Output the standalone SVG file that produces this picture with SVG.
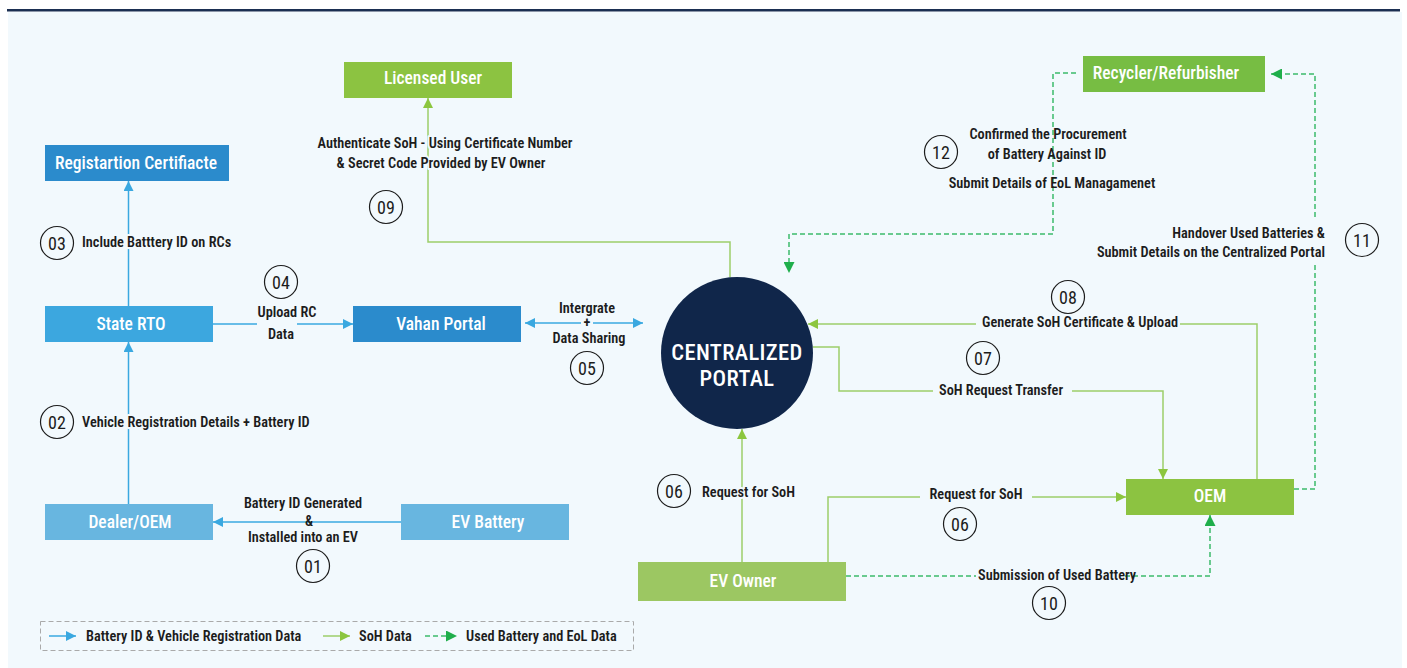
<svg xmlns="http://www.w3.org/2000/svg" width="1407" height="668" viewBox="0 0 1407 668">
  <style>
    .node-text { font-family: "Liberation Sans Narrow", "Roboto Condensed", "DejaVu Sans Condensed", "Liberation Sans", sans-serif; font-size: 17.5px; font-weight: 500; fill: #ffffff; text-anchor: middle; }
    .lbl { font-family: "Liberation Sans Narrow", "Roboto Condensed", "DejaVu Sans Condensed", "Liberation Sans", sans-serif; font-size: 14.3px; font-weight: 600; fill: #1c1c1c; }
    .halo { stroke: #f2f9fd; stroke-width: 4px; paint-order: stroke; stroke-linejoin: round; }
    .num { font-family: "Liberation Sans Narrow", "Roboto Condensed", "DejaVu Sans Condensed", "Liberation Sans", sans-serif; font-size: 18px; fill: #1c1c1c; text-anchor: middle; }
    .badge { fill: none; stroke: #1c1c1c; stroke-width: 1.2; }
    .blue { fill: none; stroke: #3aa8e0; stroke-width: 1.5; }
    .soh { fill: none; stroke: #9dce6a; stroke-width: 1.5; }
    .eol { fill: none; stroke: #3dbb6b; stroke-width: 1.5; stroke-dasharray: 5 3; }
    .portal-text { font-family: "Liberation Sans Narrow", "Roboto Condensed", "DejaVu Sans Condensed", "Liberation Sans", sans-serif; font-size: 22.5px; font-weight: 500; fill: #ffffff; text-anchor: middle; letter-spacing: 0.4px; }
  </style>
  <defs>
    <marker id="arrBlue" viewBox="0 0 10 10" refX="10" refY="5" markerWidth="10" markerHeight="10" markerUnits="userSpaceOnUse" orient="auto-start-reverse">
      <path d="M0,0 L10,5 L0,10 z" fill="#3aa8e0"/>
    </marker>
    <marker id="arrSoh" viewBox="0 0 10 10" refX="10" refY="5" markerWidth="10" markerHeight="10" markerUnits="userSpaceOnUse" orient="auto-start-reverse">
      <path d="M0,0 L10,5 L0,10 z" fill="#8cc63f"/>
    </marker>
    <marker id="arrEol" viewBox="0 0 10 10" refX="10" refY="5" markerWidth="11" markerHeight="11" markerUnits="userSpaceOnUse" orient="auto-start-reverse">
      <path d="M0,0 L10,5 L0,10 z" fill="#1fae4b"/>
    </marker>
  </defs>

  <!-- page frame -->
  <rect x="0" y="0" width="1407" height="668" fill="#ffffff"/>
  <rect x="8" y="12" width="1394" height="656" fill="#f2f9fd"/>
  <rect x="7" y="9" width="1393" height="2.5" fill="#1b2f52"/>

  <!-- connectors -->
  <g id="connectors">
    <!-- battery ID & registration flow -->
    <path class="blue" d="M401,522 H213" marker-end="url(#arrBlue)"/>
    <path class="blue" d="M128.5,504 V342" marker-end="url(#arrBlue)"/>
    <path class="blue" d="M128.5,306 V181" marker-end="url(#arrBlue)"/>
    <path class="blue" d="M213,324 H257"/>
    <path class="blue" d="M297,324 H353" marker-end="url(#arrBlue)"/>
    <path class="blue" d="M525,323 H581" marker-start="url(#arrBlue)"/>
    <path class="blue" d="M593,323 H643" marker-end="url(#arrBlue)"/>

    <!-- SoH flow -->
    <path class="soh" d="M730,277 V242 H428 V98" marker-end="url(#arrSoh)"/>
    <path class="soh" d="M1257,479 V324 H1180"/>
    <path class="soh" d="M976,324 H808" marker-end="url(#arrSoh)"/>
    <path class="soh" d="M813,347 H839 V391 H933"/>
    <path class="soh" d="M1072,391 H1163 V479" marker-end="url(#arrSoh)"/>
    <path class="soh" d="M742,562 V429" marker-end="url(#arrSoh)"/>
    <path class="soh" d="M828,562 V497 H920"/>
    <path class="soh" d="M1032,497 H1126" marker-end="url(#arrSoh)"/>

    <!-- used battery / EoL flow -->
    <path class="eol" d="M846,576 H976"/>
    <path class="eol" d="M1125,576 H1210 V515" marker-end="url(#arrEol)"/>
    <path class="eol" d="M1294,489 H1315 V264"/>
    <path class="eol" d="M1315,217 V74 H1271" marker-end="url(#arrEol)"/>
    <path class="eol" d="M1076,73 H1053 V234 H789 V273" marker-end="url(#arrEol)"/>
  </g>

  <!-- nodes -->
  <g id="registration-certificate">
    <rect x="45" y="145" width="184" height="36" fill="#2b8bcc"/>
    <text class="node-text" x="136" y="169">Registartion Certifiacte</text>
  </g>
  <g id="state-rto">
    <rect x="45" y="306" width="168" height="36" fill="#3ca7df"/>
    <text class="node-text" x="131" y="330">State RTO</text>
  </g>
  <g id="dealer-oem">
    <rect x="45" y="504" width="168" height="36" fill="#68b6e0"/>
    <text class="node-text" x="130" y="528">Dealer/OEM</text>
  </g>
  <g id="ev-battery">
    <rect x="401" y="504" width="168" height="36" fill="#68b6e0"/>
    <text class="node-text" x="488" y="528">EV Battery</text>
  </g>
  <g id="vahan-portal">
    <rect x="353" y="306" width="168" height="36" fill="#2b8bcc"/>
    <text class="node-text" x="441" y="330">Vahan Portal</text>
  </g>
  <g id="licensed-user">
    <rect x="344" y="62" width="168" height="36" fill="#8cc341"/>
    <text class="node-text" x="433" y="84">Licensed User</text>
  </g>
  <g id="recycler">
    <rect x="1083" y="56" width="182" height="36" fill="#77bd43"/>
    <text class="node-text" x="1166" y="79">Recycler/Refurbisher</text>
  </g>
  <g id="oem">
    <rect x="1126" y="479" width="168" height="36" fill="#8cc341"/>
    <text class="node-text" x="1210" y="502">OEM</text>
  </g>
  <g id="ev-owner">
    <rect x="638" y="562" width="208" height="39" fill="#9cc762"/>
    <text class="node-text" x="743" y="587">EV Owner</text>
  </g>
  <g id="centralized-portal">
    <circle cx="737" cy="353" r="76" fill="#10264a"/>
    <text class="portal-text" x="737" y="359.5">CENTRALIZED</text>
    <text class="portal-text" x="737" y="386">PORTAL</text>
  </g>

  <!-- connector labels -->
  <g id="labels">
    <text class="lbl halo" x="82" y="247">Include Batttery ID on RCs</text>
    <text class="lbl halo" x="82" y="427">Vehicle Registration Details + Battery ID</text>
    <text class="lbl" x="303" y="508" text-anchor="middle">Battery ID Generated</text>
    <text class="lbl" x="309" y="526" text-anchor="middle">&amp;</text>
    <text class="lbl" x="303" y="542" text-anchor="middle">Installed into an EV</text>
    <text class="lbl" x="287" y="317" text-anchor="middle">Upload RC</text>
    <text class="lbl" x="281" y="339" text-anchor="middle">Data</text>
    <text class="lbl" x="587" y="313" text-anchor="middle">Intergrate</text>
    <text class="lbl" x="587" y="327" text-anchor="middle">+</text>
    <text class="lbl" x="589" y="343" text-anchor="middle">Data Sharing</text>
    <text class="lbl halo" x="445" y="148" text-anchor="middle">Authenticate SoH - Using Certificate Number</text>
    <text class="lbl halo" x="441" y="168" text-anchor="middle">&amp; Secret Code Provided by EV Owner</text>
    <text class="lbl" x="1048" y="139" text-anchor="middle">Confirmed the Procurement</text>
    <text class="lbl" x="1047" y="159" text-anchor="middle">of Battery Against ID</text>
    <text class="lbl" x="1052" y="188" text-anchor="middle">Submit Details of EoL Managamenet</text>
    <text class="lbl" x="1325" y="238" text-anchor="end">Handover Used Batteries &amp;</text>
    <text class="lbl" x="1325" y="257" text-anchor="end">Submit Details on the Centralized Portal</text>
    <text class="lbl" x="1178" y="327" text-anchor="end">Generate SoH Certificate &amp; Upload</text>
    <text class="lbl" x="939" y="395">SoH Request Transfer</text>
    <text class="lbl halo" x="702" y="497">Request for SoH</text>
    <text class="lbl" x="976" y="499" text-anchor="middle">Request for SoH</text>
    <text class="lbl" x="978" y="580">Submission of Used Battery</text>
  </g>

  <!-- step badges -->
  <g id="steps">
    <circle class="badge" cx="57" cy="243" r="16.5"/><text class="num" x="57" y="249.5">03</text>
    <circle class="badge" cx="57" cy="422" r="16.5"/><text class="num" x="57" y="428.5">02</text>
    <circle class="badge" cx="313" cy="566" r="16.5"/><text class="num" x="313" y="572.5">01</text>
    <circle class="badge" cx="281" cy="282" r="16.5"/><text class="num" x="281" y="288.5">04</text>
    <circle class="badge" cx="587" cy="368" r="16.5"/><text class="num" x="587" y="374.5">05</text>
    <circle class="badge" cx="386" cy="207" r="16.5"/><text class="num" x="386" y="213.5">09</text>
    <circle class="badge" cx="941" cy="152" r="16.5"/><text class="num" x="941" y="158.5">12</text>
    <circle class="badge" cx="1362" cy="240" r="16.5"/><text class="num" x="1362" y="246.5">11</text>
    <circle class="badge" cx="1068" cy="297" r="16.5"/><text class="num" x="1068" y="303.5">08</text>
    <circle class="badge" cx="983" cy="358" r="16.5"/><text class="num" x="983" y="364.5">07</text>
    <circle class="badge" cx="674" cy="491" r="16.5"/><text class="num" x="674" y="497.5">06</text>
    <circle class="badge" cx="960" cy="524" r="16.5"/><text class="num" x="960" y="530.5">06</text>
    <circle class="badge" cx="1049" cy="603" r="16.5"/><text class="num" x="1049" y="609.5">10</text>
  </g>

  <!-- legend -->
  <g id="legend">
    <rect x="40.5" y="621.5" width="593" height="29" fill="none" stroke="#aaaaaa" stroke-width="1" stroke-dasharray="5 3"/>
    <path class="blue" d="M49,636 H76" marker-end="url(#arrBlue)"/>
    <text class="lbl" x="86" y="641">Battery ID &amp; Vehicle Registration Data</text>
    <path class="soh" d="M323,636 H350" marker-end="url(#arrSoh)"/>
    <text class="lbl" x="359" y="641">SoH Data</text>
    <path class="eol" d="M425,636 H457" marker-end="url(#arrEol)"/>
    <text class="lbl" x="466" y="641">Used Battery and EoL Data</text>
  </g>
</svg>
